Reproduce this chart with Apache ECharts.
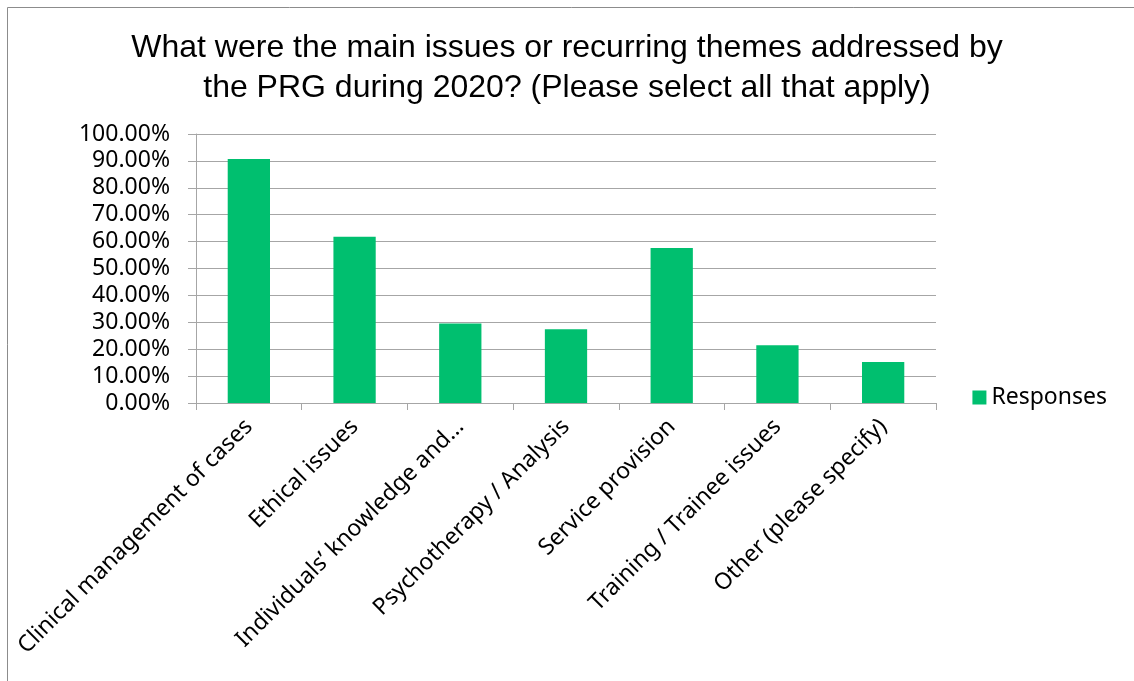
<!DOCTYPE html>
<html>
<head>
<meta charset="utf-8">
<script src="https://cdn.jsdelivr.net/npm/echarts@6/dist/echarts.min.js"></script>
<style>
  html, body { margin: 0; padding: 0; background: #fff; }
  #chart { width: 1134px; height: 681px; }
</style>
</head>
<body>
<div id="chart"></div>
<script>
var categories = [
    'Clinical management of cases',
    'Ethical issues',
    'Individuals\u2019 knowledge and\u2026',
    'Psychotherapy / Analysis',
    'Service provision',
    'Training / Trainee issues',
    'Other (please specify)'
];
var responses = [90.7, 61.8, 29.6, 27.4, 57.6, 21.5, 15.2];

var myChart = echarts.init(document.getElementById('chart'));
var labelFont = '"Noto Sans", "Open Sans", sans-serif';
var option = {
    backgroundColor: '#fff',
    animation: false,
    title: {
        text: 'What were the main issues or recurring themes addressed by\nthe PRG during 2020? (Please select all that apply)',
        left: 'center',
        top: 23,
        textStyle: {
            fontFamily: '"Liberation Sans", Arial, sans-serif',
            fontWeight: 'normal',
            fontSize: 32,
            lineHeight: 40,
            color: '#000'
        }
    },
    graphic: [{
        type: 'rect',
        shape: { x: 7.5, y: 7.5, width: 1140, height: 700 },
        style: { fill: 'none', stroke: '#8c8c8c', lineWidth: 1 },
        silent: true
    }],
    legend: {
        right: 22,
        top: 381,
        itemWidth: 14,
        itemHeight: 14,
        itemGap: 8,
        textStyle: {
            fontFamily: labelFont,
            fontSize: 23,
            color: '#000'
        },
        data: [{ name: 'Responses', icon: 'rect' }]
    },
    grid: {
        left: 196,
        right: 198,
        top: 134,
        bottom: 278
    },
    xAxis: {
        type: 'category',
        data: categories,
        axisLine: { lineStyle: { color: '#a6a6a6', width: 1 } },
        axisTick: { show: true, length: 7, alignWithLabel: false, lineStyle: { color: '#a6a6a6' } },
        axisLabel: {
            rotate: 45,
            interval: 0,
            margin: 20,
            color: '#000',
            fontFamily: labelFont,
            fontSize: 23
        }
    },
    yAxis: {
        type: 'value',
        min: 0,
        max: 100,
        interval: 10,
        axisLine: { show: true, lineStyle: { color: '#a6a6a6', width: 1 } },
        axisTick: { show: true, length: 8, inside: false, lineStyle: { color: '#a6a6a6' } },
        axisLabel: {
            margin: 26,
            color: '#000',
            fontFamily: labelFont,
            fontSize: 23,
            formatter: function (v) { return v.toFixed(2) + '%'; }
        },
        splitLine: { lineStyle: { color: '#a6a6a6', width: 1 } }
    },
    series: [{
        name: 'Responses',
        type: 'bar',
        barWidth: '40%',
        itemStyle: { color: '#00bf6f' },
        data: responses
    }]
};
myChart.setOption(option);
</script>
</body>
</html>
